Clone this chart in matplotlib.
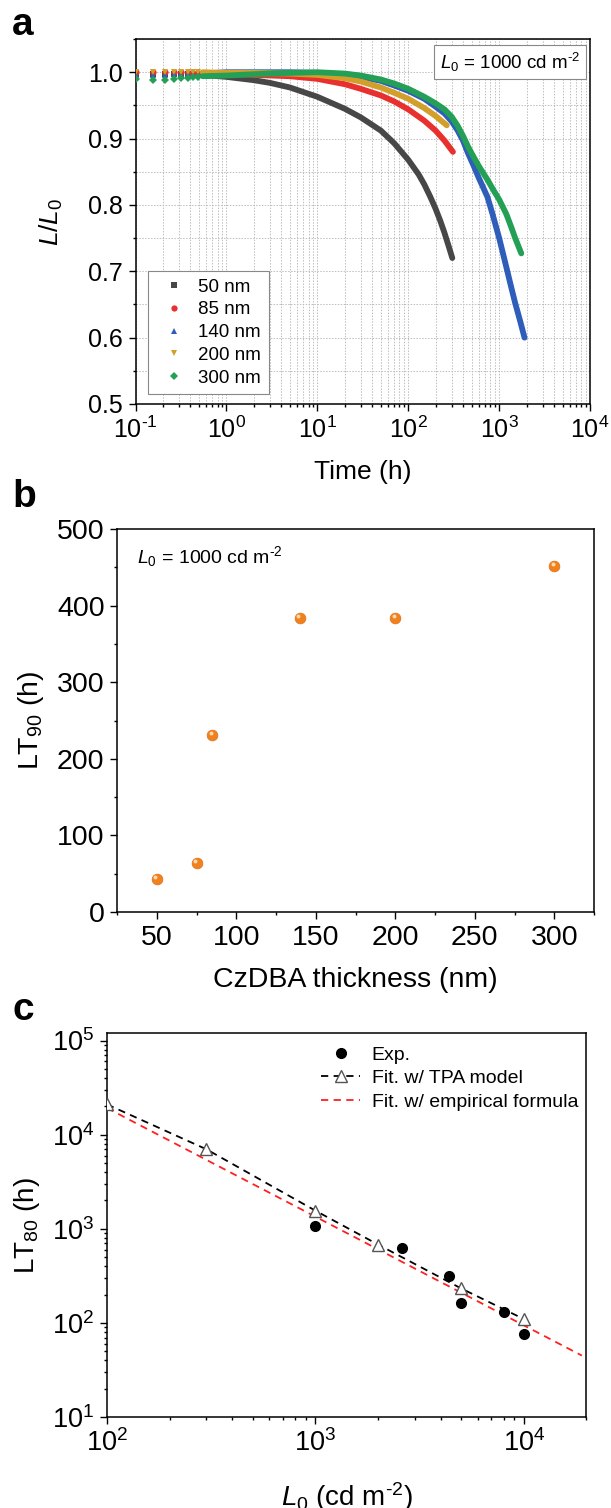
import matplotlib
matplotlib.use("Agg")
import numpy as np
import matplotlib.pyplot as plt
from matplotlib.lines import Line2D
from matplotlib.ticker import (MultipleLocator, LogLocator, NullFormatter,
                               FormatStrFormatter, FuncFormatter)
from matplotlib.transforms import ScaledTranslation

plt.rcParams['font.family'] = ['Liberation Sans', 'DejaVu Sans']
plt.rcParams['mathtext.fontset'] = 'custom'
plt.rcParams['mathtext.rm'] = 'Liberation Sans'
plt.rcParams['mathtext.it'] = 'Liberation Sans:italic'
plt.rcParams['mathtext.bf'] = 'Liberation Sans:bold'
plt.rcParams['axes.unicode_minus'] = False

# ---- panel a: L/L0 vs time ----
labels_a = ['50 nm', '85 nm', '140 nm', '200 nm', '300 nm']
t_early = [0.1, 0.155, 0.21, 0.265, 0.32, 0.375, 0.43, 0.485]
early_50 = [0.998, 0.998, 0.998, 0.997, 0.997, 0.997, 0.996, 0.996]
early_85 = [1.0, 1.0, 1.0, 1.0, 1.0, 0.999, 0.999, 0.999]
early_140 = [0.996, 0.996, 0.996, 0.997, 0.997, 0.997, 0.998, 0.998]
early_200 = [1.0, 1.0, 1.0, 1.0, 1.0, 1.0, 1.0, 1.0]
early_300 = [0.990, 0.988, 0.989, 0.990, 0.991, 0.992, 0.993, 0.993]

t_50 = [0.55, 1, 2, 3, 5, 10, 20, 30, 50, 70, 100, 130, 150, 175, 200, 225, 250, 275, 305]
L_50 = [0.996, 0.993, 0.988, 0.984, 0.977, 0.963, 0.945, 0.932, 0.912, 0.893, 0.868, 0.846, 0.831, 0.812, 0.794, 0.776, 0.758, 0.74, 0.72]
t_85 = [0.55, 1, 2, 5, 10, 20, 30, 50, 70, 100, 150, 200, 250, 310]
L_85 = [0.998, 0.997, 0.996, 0.994, 0.99, 0.982, 0.975, 0.965, 0.956, 0.944, 0.927, 0.912, 0.897, 0.88]
t_140 = [0.55, 1, 2, 5, 10, 20, 30, 50, 70, 100, 150, 200, 250, 300, 350, 400, 454, 520, 600, 743,
         850, 1000, 1200, 1345, 1500, 1700, 1900]
L_140 = [0.998, 1.0, 1.0, 1.0, 0.999, 0.996, 0.993, 0.987, 0.98, 0.972, 0.96, 0.948, 0.938, 0.926, 0.912, 0.897, 0.878, 0.86, 0.84, 0.812,
         0.785, 0.75, 0.706, 0.678, 0.652, 0.625, 0.6]
t_200 = [0.55, 1, 2, 5, 10, 20, 30, 50, 70, 100, 150, 200, 265]
L_200 = [1.0, 0.999, 0.999, 0.998, 0.996, 0.991, 0.986, 0.977, 0.969, 0.96, 0.946, 0.934, 0.92]
t_300 = [0.55, 1, 2, 5, 10, 20, 30, 50, 70, 100, 150, 200, 250, 300, 350, 400, 454, 520, 600, 743,
         850, 1000, 1200, 1345, 1500, 1750]
L_300 = [0.994, 0.995, 0.997, 0.999, 1.0, 0.998, 0.995, 0.989, 0.983, 0.975, 0.963, 0.953, 0.944, 0.933, 0.919, 0.904, 0.888, 0.873, 0.858, 0.838,
         0.824, 0.808, 0.786, 0.768, 0.75, 0.727]

# ---- panel b: LT90 vs thickness ----
thickness = [50, 75, 85, 140, 200, 300]
lt90 = [43, 64, 231, 384, 384, 452]

# ---- panel c: LT80 vs L0 ----
L0_exp = [1000, 2600, 4400, 5000, 8000, 10000]
lt80_exp = [1070, 630, 315, 162, 131, 76]
L0_tpa = [100, 300, 1000, 2000, 5000, 10000]
lt80_tpa = [21000, 7000, 1560, 680, 233, 110]
L0_emp = [100, 19000]
lt80_emp = [19200, 45]

colors_a = ['#474747', '#E8302E', '#2E5EBA', '#D2A02A', '#23A055']
markers_a = ['s', 'o', '^', 'v', 'D']


def pow10(v, pos):
    e = int(round(np.log10(v)))
    sup = r'\text{-}%d' % -e if e < 0 else '%d' % e
    return r'10$^{%s}$' % sup


fig = plt.figure(figsize=(6.11, 15.08), dpi=100)

# panel a
ax1 = fig.add_axes([0.2218, 0.7321, 0.744, 0.2420])
series = [(early_50, t_50, L_50), (early_85, t_85, L_85), (early_140, t_140, L_140),
          (early_200, t_200, L_200), (early_300, t_300, L_300)]
handles = []
for (early, t, L), col, mk, lab in zip(series, colors_a, markers_a, labels_a):
    ms = 4 if mk == 'D' else 4.5
    ax1.plot(t_early, early, ls='none', marker=mk, ms=ms, color=col, mew=0, zorder=3)
    ax1.plot(t, L, '-', color=col, lw=4.2, solid_capstyle='round', solid_joinstyle='round', zorder=3)
    handles.append(Line2D([], [], ls='none', marker=mk, ms=ms, color=col, mew=0, label=lab))
ax1.set_xscale('log')
ax1.set_xlim(0.1, 1e4)
ax1.set_ylim(0.5, 1.05)
ax1.yaxis.set_major_locator(MultipleLocator(0.1))
ax1.yaxis.set_minor_locator(MultipleLocator(0.05))
ax1.yaxis.set_major_formatter(FormatStrFormatter('%.1f'))
ax1.xaxis.set_major_formatter(FuncFormatter(pow10))
ax1.xaxis.set_minor_locator(LogLocator(base=10, subs=range(2, 10), numticks=20))
ax1.xaxis.set_minor_formatter(NullFormatter())
ax1.grid(which='both', ls=(0, (1.5, 1.5)), color='#bdbdbd', lw=0.7)
ax1.set_axisbelow(True)
ax1.tick_params(which='both', direction='out', width=1, labelsize=18, pad=4)
ax1.tick_params(which='major', length=5)
ax1.tick_params(which='minor', length=2.5)
ax1.set_xlabel('Time (h)', fontsize=19, va='center')
ax1.set_ylabel(r'$L/L_\mathrm{0}$', fontsize=19, va='center')
ax1.xaxis.set_label_coords(0.5, -0.186)
ax1.yaxis.set_label_coords(-0.186, 0.5)
leg = ax1.legend(handles=handles, loc='lower left', bbox_to_anchor=(0.027, 0.027),
                 borderaxespad=0, fontsize=13.5, handletextpad=0.3, handlelength=2,
                 labelspacing=0.3, fancybox=False, edgecolor='#888888', framealpha=1)
leg.get_frame().set_linewidth(0.8)
ax1.text(0.978, 0.937, r'$L_\mathrm{0}$ = 1000 cd m$^{\text{-}2}$', transform=ax1.transAxes,
         ha='right', va='center', fontsize=13.5,
         bbox=dict(boxstyle='square,pad=0.3', fc='white', ec='#888888', lw=0.8))

# panel b
ax2 = fig.add_axes([0.1915, 0.3952, 0.7807, 0.254])
ax2.scatter(thickness, lt90, s=60, color='#F0821E', edgecolors='#E0701A', linewidths=0.5, zorder=3)
shift = ax2.transData + ScaledTranslation(-1.2 / 72, 1.2 / 72, fig.dpi_scale_trans)
ax2.scatter(thickness, lt90, s=8, color='#FCD9B0', linewidths=0, transform=shift, zorder=4)
ax2.set_xlim(25, 325)
ax2.set_ylim(0, 500)
ax2.xaxis.set_major_locator(MultipleLocator(50))
ax2.xaxis.set_minor_locator(MultipleLocator(25))
ax2.yaxis.set_major_locator(MultipleLocator(100))
ax2.yaxis.set_minor_locator(MultipleLocator(50))
ax2.tick_params(which='both', direction='out', width=1, labelsize=20.5, pad=4)
ax2.tick_params(which='major', length=5)
ax2.tick_params(which='minor', length=2.5)
ax2.set_xlabel('CzDBA thickness (nm)', fontsize=20.5, va='center')
ax2.set_ylabel(r'LT$_\mathrm{90}$ (h)', fontsize=20.5, va='center')
ax2.xaxis.set_label_coords(0.5, -0.178)
ax2.yaxis.set_label_coords(-0.18, 0.5)
ax2.text(0.042, 0.927, r'$L_\mathrm{0}$ = 1000 cd m$^{\text{-}2}$', transform=ax2.transAxes,
         ha='left', va='center', fontsize=14)

# panel c
ax3 = fig.add_axes([0.1751, 0.0603, 0.7848, 0.2546])
ax3.plot(L0_emp, lt80_emp, ls=(0, (4, 3)), color='#FF2020', lw=1.3,
         label='Fit. w/ empirical formula', zorder=2)
ax3.plot(L0_tpa, lt80_tpa, ls=(0, (4, 3)), color='black', lw=1.3, marker='^', ms=8,
         mfc='white', mec='#555555', mew=1, label='Fit. w/ TPA model', zorder=3)
ax3.plot(L0_exp, lt80_exp, ls='none', marker='o', ms=7, color='black', label='Exp.', zorder=4)
ax3.set_xscale('log')
ax3.set_yscale('log')
ax3.set_xlim(100, 2e4)
ax3.set_ylim(10, 1.2e5)
for axis in (ax3.xaxis, ax3.yaxis):
    axis.set_major_locator(LogLocator(base=10, numticks=10))
    axis.set_major_formatter(FuncFormatter(pow10))
    axis.set_minor_locator(LogLocator(base=10, subs=range(2, 10), numticks=20))
    axis.set_minor_formatter(NullFormatter())
ax3.tick_params(which='both', direction='out', width=1, labelsize=19.5, pad=4)
ax3.tick_params(which='major', length=5)
ax3.tick_params(which='minor', length=2.5)
ax3.set_xlabel(r'$L_\mathrm{0}$ (cd m$^{\text{-}2}$)', fontsize=20, va='center')
ax3.set_ylabel(r'LT$_\mathrm{80}$ (h)', fontsize=20, va='center')
ax3.xaxis.set_label_coords(0.5, -0.208)
ax3.yaxis.set_label_coords(-0.167, 0.5)
h, l = ax3.get_legend_handles_labels()
ax3.legend([h[2], h[1], h[0]], [l[2], l[1], l[0]], loc='upper left', bbox_to_anchor=(0.41, 1.012),
           frameon=False, fontsize=14, handlelength=2, handletextpad=0.6, labelspacing=0.3)

for ax in (ax1, ax2, ax3):
    for sp in ax.spines.values():
        sp.set_linewidth(1.1)

fig.text(12 / 611, 1 - 35 / 1508, 'a', fontsize=28, fontweight='bold', va='baseline')
fig.text(12 / 611, 1 - 507 / 1508, 'b', fontsize=28, fontweight='bold', va='baseline')
fig.text(12 / 611, 1 - 1020 / 1508, 'c', fontsize=28, fontweight='bold', va='baseline')

fig.savefig('out.png', dpi=100)
